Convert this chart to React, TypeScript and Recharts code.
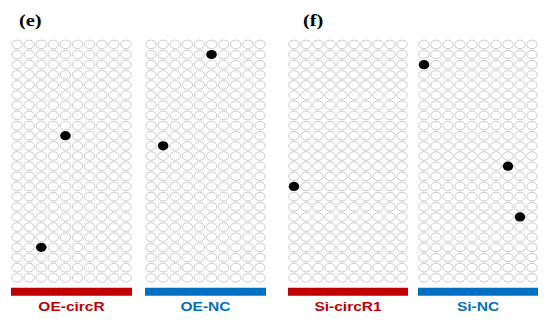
import { ScatterChart, Scatter, XAxis, YAxis, ReferenceArea } from 'recharts';

// grid size of every panel
const COLS = 10;
const ROWS = 24;

const groupNames = ['OE-circR', 'OE-NC', 'Si-circR1', 'Si-NC'];
const groupColors = ['#c00000', '#0070c0', '#c00000', '#0070c0'];
const panelTitles = ['(e)', '(f)'];

// filled (black) cells, col / row counted from top-left
const oeCircRHits = [
  { col: 4, row: 9 },
  { col: 2, row: 20 },
];
const oeNcHits = [
  { col: 5, row: 1 },
  { col: 1, row: 10 },
];
const siCircR1Hits = [{ col: 0, row: 14 }];
const siNcHits = [
  { col: 0, row: 2 },
  { col: 7, row: 12 },
  { col: 8, row: 17 },
];

const allHits = [oeCircRHits, oeNcHits, siCircR1Hits, siNcHits];

// layout only
const panelLeft = [10.7, 145, 288.3, 418.3];
const panelWidth = [121, 121, 120, 120];
const titleLeft = [19, 303];

type Cell = { col: number; row: number };

function emptyCells(hits: Cell[]) {
  const out: Cell[] = [];
  for (let r = 0; r < ROWS; r++) {
    for (let c = 0; c < COLS; c++) {
      if (!hits.some((h) => h.col === c && h.row === r)) out.push({ col: c, row: r });
    }
  }
  return out;
}

const EmptyDot = (props: any) => (
  <ellipse cx={props.cx} cy={props.cy} rx={5.2} ry={4.3} fill="#fff" stroke="#c4c4c4" strokeWidth={0.9} />
);

const FilledDot = (props: any) => (
  <ellipse cx={props.cx} cy={props.cy} rx={5.3} ry={4.6} fill="#000" />
);

function Panel({ name, color, hits, left, width }: { name: string; color: string; hits: Cell[]; left: number; width: number }) {
  const pad = 6;
  const renderLabel = (p: any) => {
    const vb = p.viewBox || {};
    const cx = vb.x + vb.width / 2;
    const y = vb.y + vb.height + 15;
    return (
      <text
        transform={`translate(${cx},${y}) scale(1.15,1)`}
        textAnchor="middle"
        fill={color}
        fontFamily="'Liberation Sans', Arial, sans-serif"
        fontWeight="bold"
        fontSize={13.5}
      >
        {name}
      </text>
    );
  };
  return (
    <div style={{ position: 'absolute', left: left - pad, top: 0 }}>
      <ScatterChart width={width + 2 * pad} height={327} margin={{ top: 39.3, right: pad, bottom: 8.6, left: pad }}>
        <XAxis type="number" dataKey="col" domain={[-0.5, COLS - 0.5]} hide allowDataOverflow height={0} />
        <YAxis type="number" dataKey="row" domain={[-0.5, 27]} reversed hide allowDataOverflow width={0} />
        <Scatter data={emptyCells(hits)} shape={EmptyDot} isAnimationActive={false} />
        <Scatter data={hits} shape={FilledDot} isAnimationActive={false} />
        <ReferenceArea
          x1={-0.5}
          x2={COLS - 0.5}
          y1={23.98}
          y2={24.77}
          fill={color}
          fillOpacity={1}
          stroke="none"
          label={{ content: renderLabel }}
        />
      </ScatterChart>
    </div>
  );
}

export default function App() {
  return (
    <div style={{ position: 'absolute', left: 0, top: 0, width: 550, height: 327, background: '#fff' }}>
      {panelTitles.map((t, i) => (
        <span
          key={t}
          style={{
            position: 'absolute',
            left: titleLeft[i],
            top: 11.5,
            fontFamily: "'Liberation Serif', 'Times New Roman', serif",
            fontWeight: 'bold',
            fontSize: 17,
            lineHeight: '17px',
            display: 'inline-block',
            transform: 'scaleX(1.2)',
            transformOrigin: 'left',
          }}
        >
          {t}
        </span>
      ))}
      {groupNames.map((n, i) => (
        <Panel
          key={n}
          name={n}
          color={groupColors[i]}
          hits={allHits[i]}
          left={panelLeft[i]}
          width={panelWidth[i]}
        />
      ))}
    </div>
  );
}
